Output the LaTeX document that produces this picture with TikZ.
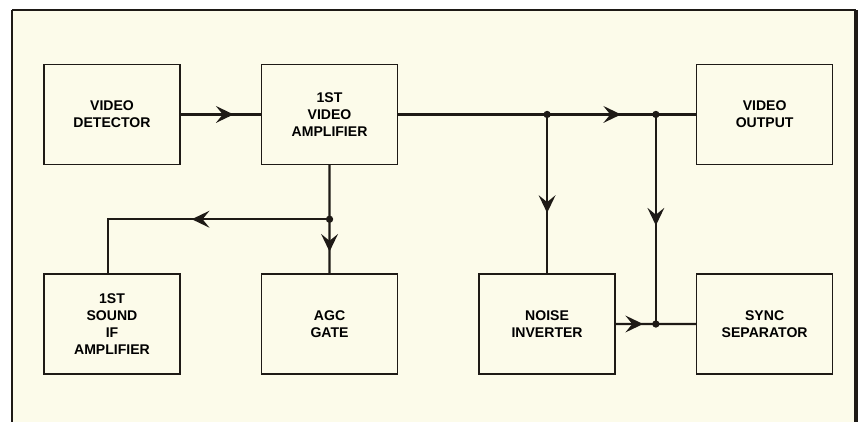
\documentclass[tikz,border=0pt]{standalone}
\usepackage{fontspec}
\setmainfont{Liberation Sans}
\usepackage{tikz}
\usetikzlibrary{arrows.meta,positioning,calc,decorations.markings}
\usepackage{xcolor}
\definecolor{paper}{HTML}{FCFBEA}
\definecolor{ink}{HTML}{1E1A16}
\tikzset{
  block/.style={draw=ink,line width=1.1pt,fill=paper,align=center,
    minimum width=3.4cm,minimum height=2.5cm,inner sep=2pt,
    font=\fontsize{10}{12}\selectfont\bfseries},
  wire/.style={color=ink,line width=1.5pt},
  flowat/.style={postaction={decorate},decoration={markings,
    mark=at position #1 with {\arrow{Stealth[length=4.4mm,width=4.2mm,inset=1.7mm]}}}}
}
\begin{document}
\begin{tikzpicture}[node distance=2.7cm and 2.0cm]
      \useasboundingbox (0,0) rectangle (21.625,10.55);
      \fill[paper] (0.3,0) rectangle (21.4,10.3);
      \draw[ink,line width=0.8pt] (0.3,10.3) -- (21.4,10.3);
      \draw[ink,line width=2pt] (0.3,10.3) -- (0.3,0);
      \draw[ink,line width=2.6pt] (21.4,10.3) -- (21.4,0);
      \node[block] (snd) at (2.8,2.45) {1ST\\SOUND\\IF\\AMPLIFIER};
      \node[block,right=of snd] (agc) {AGC\\GATE};
      \node[block,right=of agc] (noi) {NOISE\\INVERTER};
      \node[block,right=of noi] (syn) {SYNC\\SEPARATOR};
      \node[block,above=of snd] (det) {VIDEO\\DETECTOR};
      \node[block,above=of agc] (amp) {1ST\\VIDEO\\AMPLIFIER};
      \node[block,above=of syn] (out) {VIDEO\\OUTPUT};
      \coordinate (j1) at (noi |- amp);
      \coordinate (j3) at ($(noi.east)!0.5!(syn.west)$);
      \coordinate (j2) at (j3 |- amp);
      \coordinate (j4) at ($(amp.south)!0.5!(agc.north)$);
      \coordinate (j5) at ([xshift=-0.1cm]snd.north |- j4);
      \draw[wire,flowat=0.66] (det) -- (amp);
      \draw[wire] (amp) -- (j1);
      \draw[wire,flowat=0.68] (j1) -- (j2);
      \draw[wire] (j2) -- (out);
      \draw[wire,flowat=0.62] (j1) -- (noi);
      \draw[wire,flowat=0.53] (j2) -- (j3);
      \draw[wire,flowat=0.68] (noi) -- (j3);
      \draw[wire] (j3) -- (syn);
      \draw[wire] (amp) -- (j4);
      \draw[wire,flowat=0.6] (j4) -- (agc);
      \draw[wire,flowat=0.5] (j4) -- (j5) -- (j5 |- snd.north);
      \foreach \j in {j1,j2,j3,j4}
        \fill[ink] (\j) circle (2.6pt);
    \end{tikzpicture}
\end{document}
